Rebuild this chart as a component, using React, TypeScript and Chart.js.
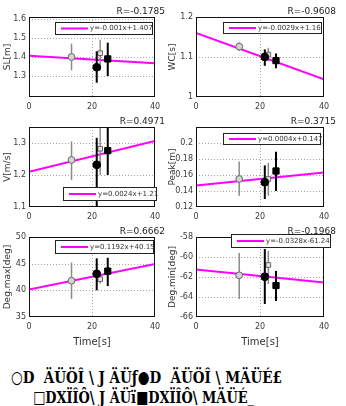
import React, { useEffect, useLayoutEffect, useRef } from 'react';
import { Chart, registerables } from 'chart.js';

Chart.register(...registerables);
Chart.defaults.font.family = '"DejaVu Sans", sans-serif';

// Time of each trial group [s]
const groupTime = [13.5, 21.5, 22.6, 25.0];

// Stride length
const slMean = [1.40, 1.346, 1.42, 1.39];
const slLow = [1.33, 1.265, 1.33, 1.30];
const slHigh = [1.47, 1.43, 1.49, 1.475];
const slTicks = [1.3, 1.4, 1.5, 1.6];
const slFit = [-0.001, 1.407];
const slR = '-0.1785';

// Walk cycle
const wcMean = [1.126, 1.10, 1.106, 1.091];
const wcLow = [1.115, 1.078, 1.089, 1.072];
const wcHigh = [1.136, 1.119, 1.123, 1.109];
const wcTicks = [1, 1.1, 1.2];
const wcFit = [-0.0029, 1.16];
const wcR = '-0.9608';

// Velocity
const vMean = [1.247, 1.232, 1.282, 1.276];
const vLow = [1.184, 1.09, 1.20, 1.20];
const vHigh = [1.305, 1.316, 1.36, 1.37];
const vTicks = [1.1, 1.2, 1.3];
const vFit = [0.0024, 1.21];
const vR = '0.4971';

// Peak height
const peakMean = [0.155, 0.151, 0.155, 0.165];
const peakLow = [0.134, 0.130, 0.134, 0.140];
const peakHigh = [0.177, 0.172, 0.175, 0.189];
const peakTicks = [0.12, 0.14, 0.16, 0.18, 0.2];
const peakFit = [0.0004, 0.147];
const peakR = '0.3715';

// Maximum angle
const degMaxMean = [41.8, 43.1, 42.1, 43.6];
const degMaxLow = [38.4, 40.0, 41.3, 40.8];
const degMaxHigh = [45.2, 46.0, 43.3, 46.1];
const degMaxTicks = [35, 40, 45, 50];
const degMaxFit = [0.1192, 40.15];
const degMaxR = '0.6662';

// Minimum angle
const degMinMean = [-61.83, -61.97, -60.8, -62.85];
const degMinLow = [-64.2, -64.7, -62.7, -64.4];
const degMinHigh = [-59.6, -59.2, -59.4, -61.4];
const degMinTicks = [-66, -64, -62, -60, -58];
const degMinFit = [-0.0328, -61.24];
const degMinR = '-0.1968';

const xTicks = [0, 20, 40];

// Bottom legend lines
const legendLine1 = '○D  ÄÜÖÎ \\ J ÄÜƒ●D  ÄÜÖÎ \\ MÄÜÉ£';
const legendLine2 = '□DXÏÎÔ\\ J ÄÜï■DXÏÎÔ\\ MÄÜÉ_';

// Marker appearance per group
const markerStyles = [
  { pointStyle: 'circle', radius: 3.4, fill: '#d4d4d4', edge: '#666666', bar: '#8a8a8a', barW: 1.5 },
  { pointStyle: 'circle', radius: 3.9, fill: '#000000', edge: '#000000', bar: '#000000', barW: 2 },
  { pointStyle: 'rect', radius: 3.3, fill: '#e4e4e4', edge: '#666666', bar: '#8a8a8a', barW: 1.5 },
  { pointStyle: 'rect', radius: 4.4, fill: '#000000', edge: '#000000', bar: '#000000', barW: 2 },
];

// Grid geometry
const COL_LEFT = [0, 163];
const COL_W = [173, 183];
const Y_AXIS_W = [29, 33];
const PAD_RIGHT = [18, 22];
const Y_TITLE_PAD = [2.6, 4.6];
const R_RIGHT = [165, 336];
const ROW_TOP = [0, 110, 220];
const ROW_H = [110, 110, 136];
const PLOT_TOP = 17;
const PLOT_H = 80;

const panels = [
  { yTitle: 'SL[m]', mean: slMean, low: slLow, high: slHigh, ticks: slTicks, yMin: 1.19, yMax: 1.61, fit: slFit, r: slR, col: 0, row: 0, box: [55, 22, 152, 34] },
  { yTitle: 'WC[s]', mean: wcMean, low: wcLow, high: wcHigh, ticks: wcTicks, yMin: 1, yMax: 1.2, fit: wcFit, r: wcR, col: 1, row: 0, box: [223, 22, 321, 33] },
  { yTitle: 'V[m/s]', mean: vMean, low: vLow, high: vHigh, ticks: vTicks, yMin: 1.1, yMax: 1.35, fit: vFit, r: vR, col: 0, row: 1, box: [63, 187, 156, 200] },
  { yTitle: 'Peak[m]', mean: peakMean, low: peakLow, high: peakHigh, ticks: peakTicks, yMin: 0.12, yMax: 0.22, fit: peakFit, r: peakR, col: 1, row: 1, box: [223, 133, 320, 144] },
  { yTitle: 'Deg.max[deg]', mean: degMaxMean, low: degMaxLow, high: degMaxHigh, ticks: degMaxTicks, yMin: 35, yMax: 50, fit: degMaxFit, r: degMaxR, col: 0, row: 2, box: [55, 240, 153, 253] },
  { yTitle: 'Deg.min[deg]', mean: degMinMean, low: degMinLow, high: degMinHigh, ticks: degMinTicks, yMin: -66, yMax: -58, fit: degMinFit, r: degMinR, col: 1, row: 2, box: [231, 234, 330, 247] },
];

function fitLabel(fit: number[]) {
  const [m, b] = fit;
  return `y=${m}x${b >= 0 ? '+' : ''}${b}`;
}

const decorPlugin = {
  id: 'panelDecor',
  beforeDatasetsDraw(chart: any) {
    const { ctx, chartArea: a, scales } = chart;
    ctx.save();
    ctx.strokeStyle = '#a8a8a8';
    ctx.lineWidth = 1;
    ctx.setLineDash([1, 2]);
    scales.x.ticks.forEach((t: any) => {
      const px = Math.round(scales.x.getPixelForValue(t.value)) + 0.5;
      if (px > a.left + 2 && px < a.right - 2) {
        ctx.beginPath(); ctx.moveTo(px, a.top); ctx.lineTo(px, a.bottom); ctx.stroke();
      }
    });
    scales.y.ticks.forEach((t: any) => {
      const py = Math.round(scales.y.getPixelForValue(t.value)) + 0.5;
      if (py > a.top + 2 && py < a.bottom - 2) {
        ctx.beginPath(); ctx.moveTo(a.left, py); ctx.lineTo(a.right, py); ctx.stroke();
      }
    });
    ctx.restore();
  },
  beforeDatasetDraw(chart: any, args: any) {
    const ds = chart.data.datasets[args.index];
    if (ds.errLow === undefined) return;
    const { ctx, chartArea: a, scales } = chart;
    ctx.save();
    ctx.beginPath();
    ctx.rect(a.left, a.top, a.right - a.left, a.bottom - a.top);
    ctx.clip();
    const px = scales.x.getPixelForValue(ds.data[0].x);
    ctx.strokeStyle = ds.errColor;
    ctx.lineWidth = ds.errWidth;
    ctx.beginPath();
    ctx.moveTo(px, scales.y.getPixelForValue(ds.errLow));
    ctx.lineTo(px, scales.y.getPixelForValue(ds.errHigh));
    ctx.stroke();
    ctx.restore();
  },
  afterDraw(chart: any, _args: any, opts: any) {
    const { ctx, chartArea: a } = chart;
    ctx.save();
    // frame
    ctx.strokeStyle = '#111';
    ctx.lineWidth = 1;
    ctx.strokeRect(Math.round(a.left) + 0.5, Math.round(a.top) + 0.5,
      Math.round(a.right - a.left) - 1, Math.round(a.bottom - a.top) - 1);
    // correlation text
    ctx.fillStyle = '#222';
    ctx.font = '9px "DejaVu Sans"';
    ctx.textAlign = 'right';
    ctx.textBaseline = 'middle';
    ctx.fillText('R=' + opts.r, opts.rRight, a.top - 5);
    // fit legend
    const [x1, y1, x2, y2] = opts.box;
    ctx.fillStyle = '#fff';
    ctx.fillRect(x1, y1, x2 - x1, y2 - y1);
    ctx.strokeStyle = '#222';
    ctx.strokeRect(x1 + 0.5, y1 + 0.5, x2 - x1, y2 - y1);
    const cy = (y1 + y2) / 2 + 0.5;
    ctx.strokeStyle = '#ff00ff';
    ctx.lineWidth = 2;
    ctx.beginPath(); ctx.moveTo(x1 + 6, cy); ctx.lineTo(x1 + 33, cy); ctx.stroke();
    ctx.fillStyle = '#333';
    ctx.font = '7px "DejaVu Sans"';
    ctx.textAlign = 'left';
    ctx.fillText(opts.label, x1 + 35, cy);
    ctx.restore();
  },
};

function PanelChart({ p }: { p: any }) {
  const ref = useRef<HTMLCanvasElement>(null);
  const left = COL_LEFT[p.col];
  const top = ROW_TOP[p.row];
  const w = COL_W[p.col];
  const h = ROW_H[p.row];
  const bottomRow = p.row === 2;

  useEffect(() => {
    const [m, b] = p.fit;
    const markerSets = groupTime.map((t, i) => {
      const s = markerStyles[i];
      return {
        type: 'scatter',
        data: [{ x: t, y: p.mean[i] }],
        pointStyle: s.pointStyle,
        pointRadius: s.radius,
        backgroundColor: s.fill,
        borderColor: s.edge,
        borderWidth: 1,
        errLow: p.low[i],
        errHigh: p.high[i],
        errColor: s.bar,
        errWidth: s.barW,
      };
    });
    const x0 = xTicks[0];
    const x1 = xTicks[xTicks.length - 1];
    const fitSet = {
      type: 'line',
      data: [{ x: x0, y: b + m * x0 }, { x: x1, y: b + m * x1 }],
      borderColor: '#ff00ff',
      borderWidth: 2,
      pointRadius: 0,
      fill: false,
    };
    const chart = new Chart(ref.current as HTMLCanvasElement, {
      type: 'scatter',
      data: { datasets: [...markerSets, fitSet] as any },
      options: {
        animation: false,
        responsive: false,
        devicePixelRatio: 1,
        layout: { autoPadding: false, padding: { left: 0, right: PAD_RIGHT[p.col], top: PLOT_TOP, bottom: 0 } },
        plugins: {
          legend: { display: false },
          tooltip: { enabled: false },
          panelDecor: {
            r: p.r,
            rRight: R_RIGHT[p.col] - left,
            box: p.box.map((v: number, i: number) => (i % 2 === 0 ? v - left : v - top)),
            label: fitLabel(p.fit),
          },
        } as any,
        scales: {
          x: {
            type: 'linear',
            min: x0,
            max: x1,
            afterBuildTicks: (s: any) => { s.ticks = xTicks.map((v) => ({ value: v })); },
            afterFit: (s: any) => { s.height = h - PLOT_TOP - PLOT_H; },
            grid: { display: false, drawTicks: false },
            border: { display: false },
            ticks: { font: { size: 8 }, color: '#3a3a3a', padding: 5, autoSkip: false, maxRotation: 0, callback: (v: any) => String(v) },
            title: { display: bottomRow, text: 'Time[s]', font: { size: 10 }, color: '#333', padding: { top: 0, bottom: 8 } },
          },
          y: {
            type: 'linear',
            min: p.yMin,
            max: p.yMax,
            afterBuildTicks: (s: any) => { s.ticks = p.ticks.map((v: number) => ({ value: v })); },
            afterFit: (s: any) => { s.width = Y_AXIS_W[p.col]; },
            grid: { display: false, drawTicks: false },
            border: { display: false },
            ticks: { font: { size: 8 }, color: '#3a3a3a', padding: 3, autoSkip: false, callback: (v: any) => String(v) },
            title: { display: true, text: p.yTitle, font: { size: 9 }, color: '#333', padding: { top: Y_TITLE_PAD[p.col], bottom: 0 } },
          },
        },
      } as any,
      plugins: [decorPlugin as any],
    });
    return () => chart.destroy();
  }, [p]);

  return (
    <canvas
      ref={ref}
      width={w}
      height={h}
      style={{ position: 'absolute', left, top, width: w, height: h }}
    />
  );
}

function FittedLine({ text, left, top, width }: { text: string; left: number; top: number; width: number }) {
  const ref = useRef<HTMLDivElement>(null);
  useLayoutEffect(() => {
    const el = ref.current;
    if (!el) return;
    el.style.transform = 'none';
    const natural = el.getBoundingClientRect().width;
    if (natural > 0) el.style.transform = `scaleX(${width / natural})`;
  }, [text, width]);
  return (
    <div
      ref={ref}
      style={{
        position: 'absolute',
        left,
        top,
        whiteSpace: 'pre',
        display: 'inline-block',
        transformOrigin: 'left top',
        fontFamily: '"DejaVu Serif", serif',
        fontWeight: 'bold',
        fontSize: 17,
        lineHeight: '17px',
        color: '#000',
      }}
    >
      {text}
    </div>
  );
}

export default function App() {
  return (
    <div style={{ position: 'absolute', left: 0, top: 0, width: 346, height: 406, background: '#fff', overflow: 'hidden' }}>
      {panels.map((p, i) => (
        <PanelChart key={i} p={p} />
      ))}
      <FittedLine text={legendLine1} left={11} top={369} width={271} />
      <FittedLine text={legendLine2} left={33} top={389} width={221} />
    </div>
  );
}
